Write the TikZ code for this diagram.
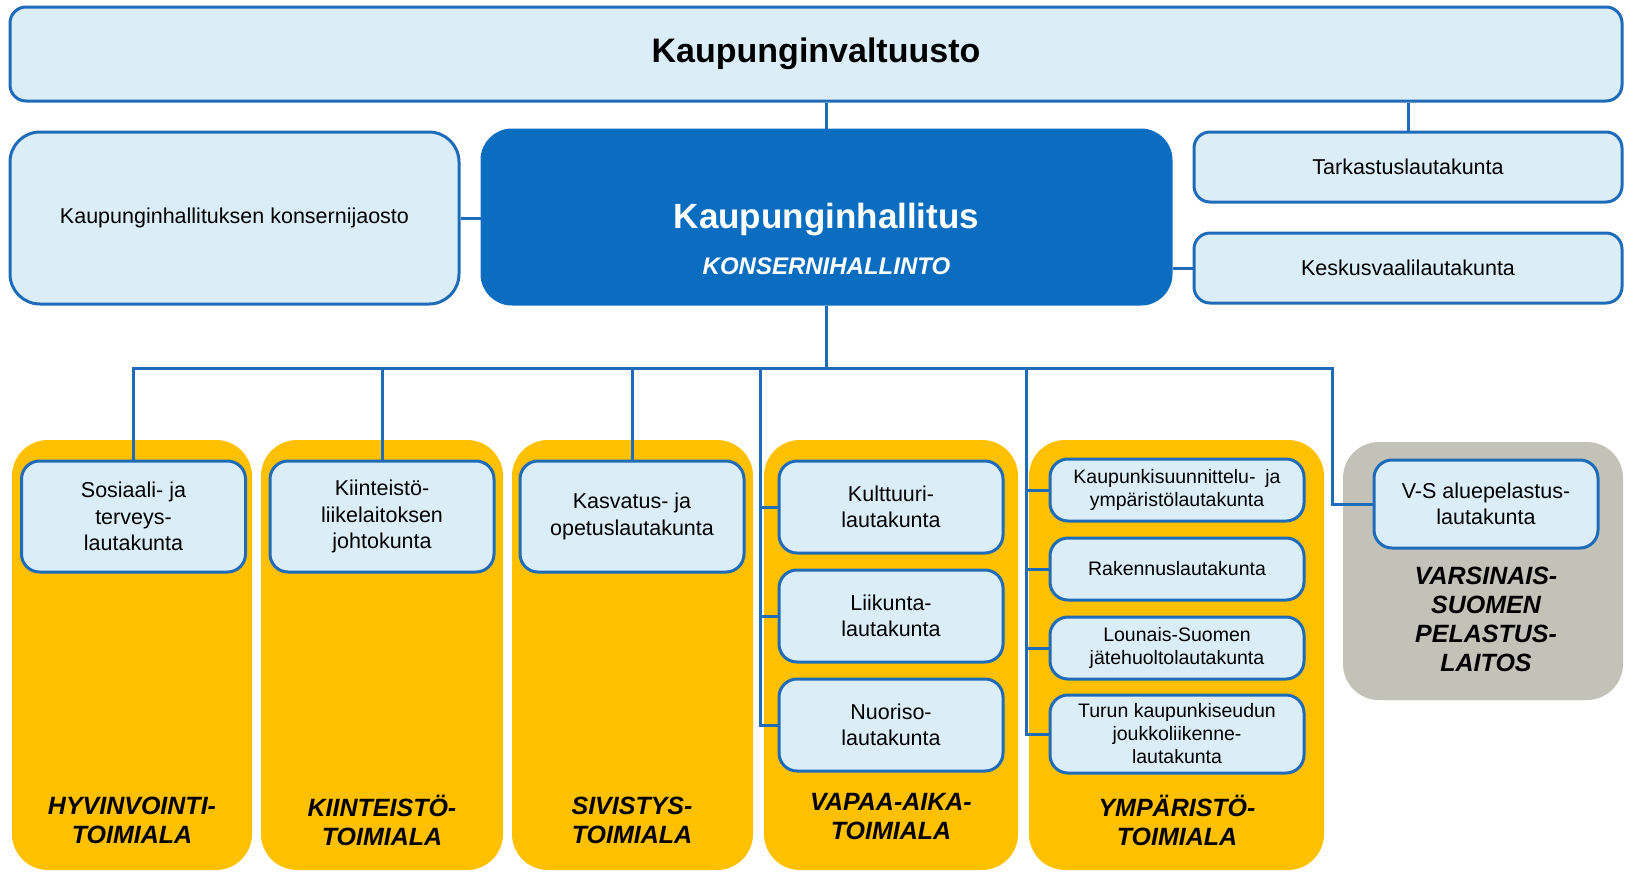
\documentclass[tikz,border=0pt]{standalone}
\usepackage{fontspec}
\setmainfont{Liberation Sans}
\usetikzlibrary{positioning}

\definecolor{paleblue}{HTML}{DBEEF8}
\definecolor{edgeblue}{HTML}{1E6CB9}
\definecolor{darkblue}{HTML}{0A6DC0}
\definecolor{toimiyellow}{HTML}{FFC000}
\definecolor{pelgrey}{HTML}{C3C2B8}

\begin{document}
\begin{tikzpicture}[
  x=1pt, y=-1pt,
  box/.style={draw=edgeblue, line width=3pt, fill=paleblue, rounded corners=16pt, align=center, inner sep=0pt, font=\fontsize{21.5}{26.4}\selectfont},
  bigbox/.style={box, rounded corners=30pt},
  subbox/.style={box, rounded corners=18pt, minimum width=224pt},
  smallbox/.style={subbox, minimum width=254pt, minimum height=62pt, font=\fontsize{19.5}{23}\selectfont},
  panel/.style={fill=toimiyellow, rounded corners=36pt, inner sep=0pt},
  panellabel/.style={align=center, font=\fontsize{25}{29}\selectfont\bfseries\itshape},
  conn/.style={draw=edgeblue, line width=3pt}
]
\useasboundingbox (0,0) rectangle (1625,871);

% top level
\node[box, minimum width=1612pt, minimum height=94pt, font=\fontsize{34}{40}\selectfont\bfseries] (valtuusto) at (816,54) {Kaupunginvaltuusto};
\node[bigbox, minimum width=449pt, minimum height=172pt] (jaosto) at (234.5,218) {Kaupunginhallituksen konsernijaosto};
\node[bigbox, fill=darkblue, draw=darkblue, minimum width=689pt, minimum height=174pt] (hallitus) at (826.5,217) {};
\node[text=white, font=\fontsize{35}{40}\selectfont\bfseries] (hallitustitle) at (826.5,220) {Kaupunginhallitus};
\node[text=white, font=\fontsize{24}{28}\selectfont\bfseries\itshape] (konsernihallinto) at (826.5,266) {KONSERNIHALLINTO};
\node[box, minimum width=428pt, minimum height=70pt] (tarkastus) at (1408,167) {Tarkastuslautakunta};
\node[box, minimum width=428pt, minimum height=70pt] (keskusvaali) at (1408,268) {Keskusvaalilautakunta};

% toimialat
\node[panel, minimum width=240pt, minimum height=430pt] (hyvinvointi) at (132,655) {};
\node[panel, minimum width=242pt, minimum height=430pt] (kiinteistotoimi) at (382,655) {};
\node[panel, minimum width=241pt, minimum height=430pt] (sivistys) at (632.5,655) {};
\node[panel, minimum width=254pt, minimum height=430pt] (vapaaaika) at (891,655) {};
\node[panel, minimum width=295pt, minimum height=430pt] (ymparisto) at (1176.5,655) {};
\node[panel, fill=pelgrey, minimum width=280pt, minimum height=258pt] (pelastus) at (1483,571) {};

\node[panellabel] (hyvlabel) at (132,820) {HYVINVOINTI-\\TOIMIALA};
\node[panellabel] (kiilabel) at (382,820) {KIINTEISTÖ-\\TOIMIALA};
\node[panellabel] (sivlabel) at (632,820) {SIVISTYS-\\TOIMIALA};
\node[panellabel] (vaplabel) at (891,817) {VAPAA-AIKA-\\TOIMIALA};
\node[panellabel] (ymplabel) at (1177,820) {YMPÄRISTÖ-\\TOIMIALA};
\node[panellabel] (pellabel) at (1486,619) {VARSINAIS-\\SUOMEN\\PELASTUS-\\LAITOS};

% lautakunnat
\node[subbox, minimum height=111pt] (sosiaali) at (133.5,516.5) {Sosiaali- ja\\terveys-\\lautakunta};
\node[subbox, minimum height=111pt] (kiinteisto) at (382,516.5) {Kiinteistö-\\liikelaitoksen\\johtokunta};
\node[subbox, minimum height=111pt] (kasvatus) at (632,516.5) {Kasvatus- ja\\opetuslautakunta};

\node[subbox, minimum height=92pt] (kulttuuri) at (891,507) {Kulttuuri-\\lautakunta};
\node[subbox, minimum height=92pt, below=14pt of kulttuuri] (liikunta) {Liikunta-\\lautakunta};
\node[subbox, minimum height=92pt, below=14pt of liikunta] (nuoriso) {Nuoriso-\\lautakunta};

\node[smallbox] (kaupunki) at (1177,490) {Kaupunkisuunnittelu-\enspace ja\\ympäristölautakunta};
\node[smallbox, below=14pt of kaupunki] (rakennus) {Rakennuslautakunta};
\node[smallbox, below=14pt of rakennus] (lounais) {Lounais-Suomen\\jätehuoltolautakunta};
\node[smallbox, minimum height=78pt, below=13pt of lounais] (turun) {Turun kaupunkiseudun\\joukkoliikenne-\\lautakunta};

\node[subbox, minimum height=88pt] (vspelastus) at (1486,504) {V-S aluepelastus-\\lautakunta};

% connectors
\draw[conn] (valtuusto.south -| hallitus.north) -- (hallitus.north);
\draw[conn] (valtuusto.south -| tarkastus.north) -- (tarkastus.north);
\draw[conn] (jaosto.east) -- (jaosto.east -| hallitus.west);
\draw[conn] (keskusvaali.west -| hallitus.east) -- (keskusvaali.west);

\coordinate (pelrail) at (1332,368);
\coordinate (vapaarail) at (760,368);
\coordinate (ymprail) at (1026,368);

\draw[conn] (hallitus.south) -- (hallitus.south |- pelrail);
\draw[conn] (sosiaali.north) |- (pelrail) |- (vspelastus.west);
\foreach \n in {kiinteisto,kasvatus}
  \draw[conn] (\n.north) -- (\n.north |- pelrail);
\draw[conn] (vapaarail) |- (nuoriso.west);
\foreach \n in {kulttuuri,liikunta}
  \draw[conn] (vapaarail |- \n.west) -- (\n.west);
\draw[conn] (ymprail) |- (turun.west);
\foreach \n in {kaupunki,rakennus,lounais}
  \draw[conn] (ymprail |- \n.west) -- (\n.west);

\end{tikzpicture}
\end{document}
